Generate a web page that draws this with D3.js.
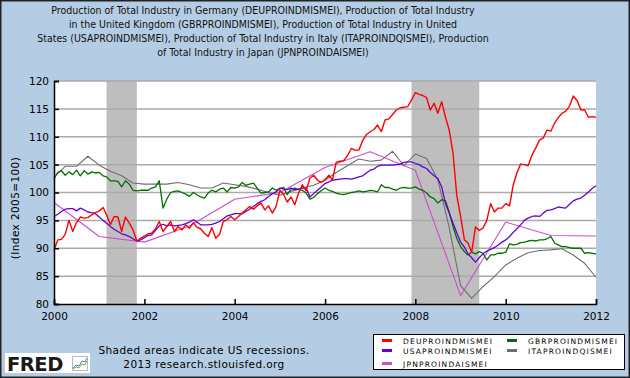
<!DOCTYPE html>
<html>
<head>
<meta charset="utf-8">
<script src="https://cdn.jsdelivr.net/npm/d3@7"></script>
<style>
body { margin: 0; background: #fff; }
svg text { font-family: "DejaVu Sans", Verdana, sans-serif; fill: #000; }
</style>
</head>
<body>
<svg id="chart" width="630" height="378"></svg>
<script>
/*
 * DATA
 */

var titleLines = [
  "Production of Total Industry in Germany (DEUPROINDMISMEI), Production of Total Industry",
  "in the United Kingdom (GBRPROINDMISMEI), Production of Total Industry in United",
  "States (USAPROINDMISMEI), Production of Total Industry in Italy (ITAPROINDQISMEI), Production",
  "of Total Industry in Japan (JPNPROINDAISMEI)"
];

var seriesNames = ["DEUPROINDMISMEI", "GBRPROINDMISMEI", "USAPROINDMISMEI", "ITAPROINDQISMEI", "JPNPROINDAISMEI"];

// monthly, Jan 2000 .. Jan 2012
var deu = [
  89.7, 91.5, 91.6, 92.5, 95.0, 93.0, 94.6, 95.6, 95.4, 95.5,
  96.0, 96.4, 96.7, 97.3, 96.0, 94.2, 95.7, 95.6, 93.0, 95.6,
  94.5, 93.3, 91.3, 91.8, 92.2, 92.6, 92.7, 93.5, 94.8, 93.0,
  93.9, 94.8, 93.0, 93.9, 93.3, 94.2, 93.6, 94.6, 93.8, 93.5,
  92.7, 92.1, 93.7, 91.8, 92.5, 94.8, 95.1, 95.7, 95.1, 95.7,
  96.3, 96.9, 97.5, 97.0, 97.6, 98.1, 96.9, 97.6, 96.3, 97.5,
  100.4, 99.6, 98.3, 99.2, 97.8, 99.9, 101.4, 100.3, 102.6, 103.1,
  102.2, 101.8, 102.3, 103.1, 102.2, 105.4, 105.6, 105.7, 106.6, 107.9,
  107.6, 107.6, 109.3, 110.4, 110.9, 111.3, 112.1, 110.9, 113.0, 113.2,
  114.0, 114.8, 115.2, 115.3, 115.4, 116.6, 117.9, 117.6, 117.4, 117.0,
  114.8, 116.0, 114.2, 116.3, 113.5, 111.2, 107.0, 99.5, 95.7, 91.5,
  91.0, 89.3, 93.8, 93.2, 93.6, 95.0, 98.0, 96.5, 97.2, 97.2,
  98.0, 97.6, 101.2, 103.5, 105.1, 105.0, 104.8, 106.7, 108.0, 109.4,
  109.8, 111.2, 111.0, 112.5, 113.4, 114.2, 114.6, 115.5, 117.3, 116.5,
  114.8, 114.8, 113.5, 113.6, 113.5
];

var gbr = [
  102.5, 103.6, 103.9, 103.1, 103.7, 103.2, 104.0, 103.0, 103.9, 103.3,
  103.7, 103.5, 103.6, 103.0, 102.8, 102.1, 102.1, 102.0, 101.0, 102.1,
  101.5, 100.4, 100.3, 100.4, 100.4, 100.4, 100.8, 101.0, 102.1, 97.2,
  98.8, 100.0, 100.2, 100.3, 100.0, 99.7, 99.3, 100.0, 99.6, 99.2,
  99.0, 99.9, 100.4, 100.1, 100.6, 100.8, 100.1, 100.9, 100.8, 101.0,
  101.8, 101.3, 101.5, 101.7, 100.8, 99.9, 100.0, 100.1, 100.8, 100.4,
  100.7, 100.9, 99.6, 100.6, 100.8, 100.5, 100.4, 99.9, 98.8, 99.1,
  99.8, 100.3, 100.8, 100.4, 100.2, 99.9, 99.7, 99.6, 99.8, 100.0,
  100.1, 100.3, 100.1, 100.2, 100.4, 100.3, 100.1, 101.4, 100.9, 100.9,
  100.6, 100.4, 100.8, 100.9, 100.8, 100.8, 101.0, 100.6, 100.4, 99.9,
  99.2, 98.9, 98.1, 98.7, 98.5, 96.5, 93.9, 91.8, 90.3, 89.4,
  88.8, 89.3, 89.0, 89.4, 89.1, 87.9, 88.8, 88.8, 89.1, 89.1,
  89.3, 90.8, 90.6, 90.7, 91.0, 91.1, 91.3, 91.4, 91.3, 91.5,
  91.5, 91.7, 92.1, 90.9, 90.6, 90.3, 90.3, 90.1, 90.0, 90.0,
  90.0, 89.1, 89.2, 89.1, 89.0
];

var usa = [
  95.7, 96.1, 96.6, 97.0, 97.1, 97.1, 96.7, 97.2, 96.9, 96.5,
  96.4, 96.2, 95.6, 95.0, 94.5, 93.9, 93.4, 93.0, 92.6, 92.4,
  92.1, 91.7, 91.3, 91.5, 91.9, 92.3, 92.4, 93.2, 94.0, 94.3,
  94.0, 94.2, 94.0, 94.1, 94.2, 94.4, 94.7, 95.1, 94.7, 94.2,
  94.2, 94.2, 94.3, 94.5, 94.8, 95.3, 95.8, 96.0, 96.2, 96.2,
  96.2, 96.6, 97.0, 97.5, 98.0, 98.4, 98.7, 99.3, 99.8, 100.1,
  100.8, 100.6, 100.5, 100.8, 100.5, 100.6, 100.8, 100.8, 99.2, 99.8,
  100.4, 101.0, 101.6, 101.9, 102.2, 102.3, 102.4, 102.5, 102.5, 102.4,
  102.6, 102.8, 103.0, 103.5, 104.0, 104.2, 104.7, 104.9, 104.9, 104.9,
  104.9, 105.0, 105.1, 105.4, 105.5, 105.5, 105.2, 105.0, 104.6, 104.3,
  103.6, 103.0, 102.5, 101.0, 98.0, 96.3, 94.5, 92.8, 91.1, 90.2,
  89.0, 88.3, 87.5, 88.3, 89.0, 89.5, 89.8, 90.1, 90.6, 91.1,
  91.5, 92.1, 92.8, 93.5, 94.2, 95.0, 95.4, 95.7, 95.8, 95.7,
  96.3, 96.8, 96.9, 97.1, 97.4, 97.3, 97.2, 97.9, 98.5, 98.8,
  99.0, 99.5, 100.1, 100.7, 101.2
];

// quarterly, 2000 Q1 .. 2012 Q1
var ita = [
  102.8, 104.7, 104.7, 106.5,
  104.9, 103.8, 103.0, 101.7,
  101.5, 101.5, 101.5, 101.8,
  101.4, 100.8, 100.8, 101.7,
  101.4, 101.1, 100.6, 100.0,
  99.5, 100.2, 100.8, 101.3,
  102.2, 103.6, 104.8, 106.0,
  105.6, 105.8, 107.4, 104.8,
  106.9, 106.1, 102.3, 93.7,
  83.3, 81.0, 83.1, 84.9,
  87.0, 88.2, 89.2, 89.6,
  89.7, 89.9, 88.8, 87.3,
  84.8
];

// annual, 2000 .. 2012
var jpn = [98.2, 92.1, 91.1, 94.0, 98.8, 100.0, 104.5, 107.3, 104.0, 81.5, 94.7, 92.3, 92.2];

var recessions = [["2001-03-01", "2001-11-01"], ["2007-12-01", "2009-06-01"]];

var yTicks = [80, 85, 90, 95, 100, 105, 110, 115, 120];
var xTickYears = [2000, 2002, 2004, 2006, 2008, 2010, 2012];

/*
 * SET UP
 */

var colors = {
  DEUPROINDMISMEI: "#ff0000",
  GBRPROINDMISMEI: "#006f00",
  USAPROINDMISMEI: "#6600cc",
  ITAPROINDQISMEI: "#6e6e6e",
  JPNPROINDAISMEI: "#cc4fcc"
};

var parse = d3.timeParse("%Y-%m-%d");

function monthly(vals) {
  return vals.map(function (v, i) { return { date: new Date(2000, i, 1), value: v }; });
}
function quarterly(vals) {
  return vals.map(function (v, i) { return { date: new Date(2000, i * 3, 1), value: v }; });
}
function annual(vals) {
  return vals.map(function (v, i) { return { date: new Date(2000 + i, 0, 1), value: v }; });
}

var series = [
  { name: "JPNPROINDAISMEI", data: annual(jpn), width: 1.1 },
  { name: "ITAPROINDQISMEI", data: quarterly(ita), width: 1.1 },
  { name: "GBRPROINDMISMEI", data: monthly(gbr), width: 1.3 },
  { name: "USAPROINDMISMEI", data: monthly(usa), width: 1.3 },
  { name: "DEUPROINDMISMEI", data: monthly(deu), width: 1.4 }
];

var plot = { left: 54, right: 596, top: 81, bottom: 304 };

var svg = d3.select("#chart");

var x = d3.scaleTime()
  .domain([new Date(2000, 0, 1), new Date(2012, 0, 1)])
  .range([plot.left, plot.right]);

var y = d3.scaleLinear()
  .domain([80, 120])
  .range([plot.bottom, plot.top]);

// background
svg.append("rect")
  .attr("x", 0).attr("y", 0).attr("width", 630).attr("height", 378)
  .attr("fill", "#b5cde4");

svg.append("rect")
  .attr("x", plot.left).attr("y", plot.top)
  .attr("width", plot.right - plot.left).attr("height", plot.bottom - plot.top)
  .attr("fill", "#fff");

// title
svg.append("g").selectAll("text")
  .data(titleLines)
  .enter().append("text")
  .attr("x", 263)
  .attr("y", function (d, i) { return 14 + i * 14; })
  .attr("text-anchor", "middle")
  .style("font-family", "'DejaVu Sans Condensed', 'DejaVu Sans', sans-serif")
  .style("font-size", "10.5px")
  .style("fill", "#111")
  .text(function (d) { return d; });

// recessions
svg.append("g").selectAll("rect")
  .data(recessions)
  .enter().append("rect")
  .attr("x", function (d) { return x(parse(d[0])); })
  .attr("width", function (d) { return x(parse(d[1])) - x(parse(d[0])); })
  .attr("y", plot.top)
  .attr("height", plot.bottom - plot.top)
  .attr("fill", "#bebebe");

// gridlines
svg.append("g").selectAll("line")
  .data(yTicks.slice(1))
  .enter().append("line")
  .attr("x1", plot.left).attr("x2", plot.right)
  .attr("y1", function (d) { return y(d); })
  .attr("y2", function (d) { return y(d); })
  .attr("stroke", "#aaaaaa")
  .attr("stroke-width", 1.5);

// lines
var line = d3.line()
  .x(function (d) { return x(d.date); })
  .y(function (d) { return y(d.value); });

svg.append("g").selectAll("path")
  .data(series)
  .enter().append("path")
  .attr("d", function (d) { return line(d.data); })
  .attr("fill", "none")
  .attr("stroke", function (d) { return colors[d.name]; })
  .attr("stroke-width", function (d) { return d.width; })
  .attr("stroke-linejoin", "round");

// axes
var yAxis = d3.axisLeft(y)
  .tickValues(yTicks)
  .tickSize(-5)
  .tickPadding(5);

var gy = svg.append("g")
  .attr("transform", "translate(" + plot.left + ",0)")
  .call(yAxis);

var xAxis = d3.axisBottom(x)
  .tickValues(xTickYears.map(function (yr) { return new Date(yr, 0, 1); }))
  .tickFormat(d3.timeFormat("%Y"))
  .tickSize(-5)
  .tickPadding(9);

var gx = svg.append("g")
  .attr("transform", "translate(0," + plot.bottom + ")")
  .call(xAxis);

[gx, gy].forEach(function (g) {
  g.select(".domain").attr("stroke", "#000").attr("stroke-width", 1.5);
  g.selectAll(".tick line").attr("stroke", "#000").attr("stroke-width", 1.5);
  g.selectAll(".tick text")
    .style("font-family", "'DejaVu Sans', sans-serif")
    .style("font-size", "10.5px")
    .style("fill", "#000");
});

svg.append("text")
  .attr("transform", "translate(19,208) rotate(-90)")
  .attr("text-anchor", "middle")
  .style("font-size", "10.5px")
  .style("letter-spacing", "0.4px")
  .text("(Index 2005=100)");

/*
 * LEGEND
 */

var legend = svg.append("g");
legend.append("rect")
  .attr("x", 373.5).attr("y", 334.5)
  .attr("width", 251).attr("height", 35)
  .attr("fill", "#fff")
  .attr("stroke", "#000");

var legendItems = [
  { name: "DEUPROINDMISMEI", col: 0, row: 0 },
  { name: "GBRPROINDMISMEI", col: 1, row: 0 },
  { name: "USAPROINDMISMEI", col: 0, row: 1 },
  { name: "ITAPROINDQISMEI", col: 1, row: 1 },
  { name: "JPNPROINDAISMEI", col: 0, row: 2 }
];
var rowY = [340.5, 350.5, 363.5];
var colX = [382, 507];

var li = legend.selectAll(".li")
  .data(legendItems)
  .enter().append("g")
  .attr("class", "li");

li.append("line")
  .attr("x1", function (d) { return colX[d.col]; })
  .attr("x2", function (d) { return colX[d.col] + 10; })
  .attr("y1", function (d) { return rowY[d.row]; })
  .attr("y2", function (d) { return rowY[d.row]; })
  .attr("stroke", function (d) { return colors[d.name]; })
  .attr("stroke-width", 3);

li.append("text")
  .attr("x", function (d) { return colX[d.col] + 21; })
  .attr("y", function (d) { return rowY[d.row] + 3; })
  .style("font-size", "7.5px")
  .style("letter-spacing", "1.2px")
  .text(function (d) { return d.name; });

/*
 * FOOTER
 */

svg.append("text")
  .attr("x", 204).attr("y", 354)
  .attr("text-anchor", "middle")
  .style("font-size", "10.5px")
  .style("letter-spacing", "0.4px")
  .text("Shaded areas indicate US recessions.");

svg.append("text")
  .attr("x", 204).attr("y", 368)
  .attr("text-anchor", "middle")
  .style("font-size", "10.5px")
  .style("letter-spacing", "0.4px")
  .text("2013 research.stlouisfed.org");

// FRED logo
var logo = svg.append("g");
logo.append("rect")
  .attr("x", 5).attr("y", 353).attr("width", 85).attr("height", 20)
  .attr("fill", "#fff");
logo.append("text")
  .attr("x", 7).attr("y", 370.5)
  .style("font-family", "'DejaVu Sans', sans-serif")
  .style("font-weight", "bold")
  .style("font-size", "19.5px")
  .style("letter-spacing", "-0.5px")
  .style("fill", "#1a1a1a")
  .text("FRED");
logo.append("rect")
  .attr("x", 72.5).attr("y", 356.5).attr("width", 15).attr("height", 14)
  .attr("fill", "#fff").attr("stroke", "#bbb");
logo.append("path")
  .attr("d", "M73,368 L76,365 L79,366 L82,361 L85,362 L87,358")
  .attr("fill", "none").attr("stroke", "#4a7fc0").attr("stroke-width", 1);
logo.append("path")
  .attr("d", "M73,369 L76,367 L79,368 L82,364 L85,365 L87,361")
  .attr("fill", "none").attr("stroke", "#6bb04a").attr("stroke-width", 1);

// outer frame
svg.append("rect")
  .attr("x", 0.75).attr("y", 0.75).attr("width", 628.5).attr("height", 376.5)
  .attr("fill", "none")
  .attr("stroke", "#222")
  .attr("stroke-width", 1.5);
</script>
</body>
</html>
